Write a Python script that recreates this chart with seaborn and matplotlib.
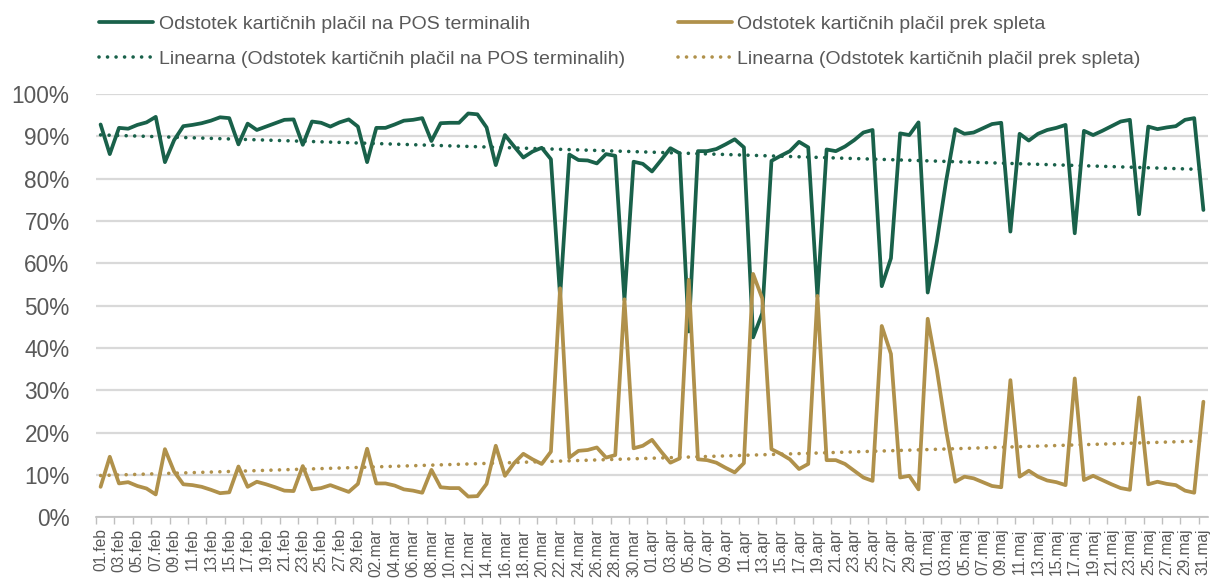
import numpy as np
import pandas as pd
import matplotlib
matplotlib.use("Agg")
import matplotlib.pyplot as plt
import seaborn as sns

# ---- data (percent of card payments), daily 01.feb - 31.maj 2020 ----
pos_pct = [
    92.8, 85.8, 92.0, 91.8, 92.7, 93.3, 94.6, 83.9, 89.1, 92.4,
    92.7, 93.1, 93.7, 94.5, 94.3, 88.1, 93.0, 91.5, 92.3, 93.1,
    93.9, 94.0, 88.0, 93.5, 93.2, 92.3, 93.3, 94.0, 92.3, 83.9,
    92.0, 92.0, 92.8, 93.7, 93.9, 94.3, 88.9, 93.1, 93.2, 93.2,
    95.4, 95.2, 92.1, 83.2, 90.3, 87.6, 85.0, 86.4, 87.3, 84.6,
    52.1, 85.7, 84.4, 84.3, 83.6, 85.8, 85.4, 51.3, 84.0, 83.5,
    81.7, 84.4, 87.2, 86.0, 43.9, 86.5, 86.5, 87.0, 88.1, 89.3,
    87.4, 42.5, 48.2, 84.2, 85.4, 86.5, 88.7, 87.4, 52.1, 86.9,
    86.5, 87.6, 89.1, 90.9, 91.5, 54.6, 61.2, 90.7, 90.3, 93.3,
    53.1, 65.2, 79.4, 91.7, 90.6, 90.9, 91.9, 92.9, 93.2, 67.5,
    90.6, 89.0, 90.6, 91.5, 92.0, 92.7, 67.1, 91.3, 90.3, 91.3,
    92.4, 93.5, 93.9, 71.6, 92.3, 91.7, 92.1, 92.4, 93.9, 94.3,
    72.6,
]
web_pct = [
    7.2, 14.3, 8.0, 8.3, 7.4, 6.8, 5.4, 16.1, 10.8, 7.8,
    7.6, 7.2, 6.5, 5.7, 5.9, 12.0, 7.2, 8.4, 7.8, 7.1,
    6.3, 6.2, 12.1, 6.6, 6.9, 7.6, 6.8, 6.0, 7.9, 16.2,
    8.0, 8.0, 7.5, 6.6, 6.3, 5.8, 11.2, 7.1, 6.9, 6.9,
    4.9, 5.0, 7.9, 16.9, 9.8, 12.8, 15.0, 13.7, 12.6, 15.5,
    54.1, 14.1, 15.7, 15.9, 16.5, 14.1, 14.7, 51.5, 16.3, 16.9,
    18.3, 15.5, 12.9, 13.9, 56.1, 13.7, 13.5, 12.9, 11.7, 10.6,
    12.8, 57.5, 51.7, 16.1, 15.0, 13.7, 11.4, 12.6, 52.3, 13.5,
    13.5, 12.6, 11.0, 9.4, 8.6, 45.2, 38.6, 9.4, 9.8, 6.6,
    46.9, 34.8, 20.6, 8.4, 9.6, 9.2, 8.3, 7.4, 7.1, 32.4,
    9.6, 11.0, 9.6, 8.7, 8.3, 7.6, 32.8, 8.8, 9.8, 8.8,
    7.8, 6.9, 6.5, 28.3, 7.8, 8.4, 7.9, 7.6, 6.3, 5.8,
    27.3,
]
month_abbr = {2: "feb", 3: "mar", 4: "apr", 5: "maj"}
dates = pd.date_range("2020-02-01", "2020-05-31", freq="D")
day_labels = [f"{d.day:02d}.{month_abbr[d.month]}" for d in dates]
y_ticks = [0, 10, 20, 30, 40, 50, 60, 70, 80, 90, 100]
y_tick_labels = [f"{v}%" for v in y_ticks]
series_names = [
    "Odstotek kartičnih plačil na POS terminalih",
    "Odstotek kartičnih plačil prek spleta",
]
trend_names = [f"Linearna ({n})" for n in series_names]

# ---- style ----
sns.set_theme(style="white")
plt.rcParams["font.family"] = ["Liberation Sans", "DejaVu Sans"]
GREEN = "#19614a"
GOLD = "#b0914b"
TXT = "#595959"

fig = plt.figure(figsize=(12.15, 5.81), dpi=100)
W, H = 1215, 581
ax = fig.add_axes([96 / W, 1 - 517.3 / H, 1112 / W, (517.3 - 94) / H])

df = pd.DataFrame({"x": np.arange(len(day_labels)), "pos": pos_pct, "web": web_pct})

sns.lineplot(data=df, x="x", y="pos", color=GREEN, lw=2.7, ax=ax,
             label=series_names[0], solid_joinstyle="round", solid_capstyle="round")
sns.lineplot(data=df, x="x", y="web", color=GOLD, lw=2.7, ax=ax,
             label=series_names[1], solid_joinstyle="round", solid_capstyle="round")
dot = (0, (0.01, 2.35))
sns.regplot(data=df, x="x", y="pos", scatter=False, ci=None, ax=ax, color=GREEN,
            label=trend_names[0],
            line_kws=dict(lw=2.6, linestyle=dot, dash_capstyle="round"))
sns.regplot(data=df, x="x", y="web", scatter=False, ci=None, ax=ax, color=GOLD,
            label=trend_names[1],
            line_kws=dict(lw=2.6, linestyle=dot, dash_capstyle="round"))

ax.set_xlim(-0.5, len(day_labels) - 0.5)
ax.set_ylim(0, 100)
ax.set_xlabel("")
ax.set_ylabel("")

xs = np.arange(len(day_labels))
ax.set_xticks(xs[::2])
ax.set_xticklabels(day_labels[::2], rotation=90, fontsize=11.2, color=TXT)
ax.set_xticks(np.arange(-0.5, len(day_labels) - 1, 2), minor=True)
ax.tick_params(axis="x", which="major", length=0, pad=8, bottom=True)
ax.tick_params(axis="x", which="minor", length=5, width=1, color="#bfbfbf", bottom=True)

ax.set_yticks(y_ticks)
ax.set_yticklabels(y_tick_labels, fontsize=16.3, color=TXT)
ax.tick_params(axis="y", length=0, pad=19)

ax.yaxis.grid(True, color="#d9d9d9", lw=1.6)
ax.xaxis.grid(False)
ax.set_axisbelow(True)
for s in ["left", "top", "right"]:
    ax.spines[s].set_visible(False)
ax.spines["bottom"].set_color("#bfbfbf")
ax.spines["bottom"].set_linewidth(1.2)

handles, labels = ax.get_legend_handles_labels()
order = [series_names[0], trend_names[0], series_names[1], trend_names[1]]
hmap = dict(zip(labels, handles))
if ax.get_legend() is not None:
    ax.get_legend().remove()
fig.legend([hmap[l] for l in order], order, loc="upper left",
           bbox_to_anchor=(99 / W, 1 - 15 / H), ncol=2, frameon=False,
           fontsize=14, handlelength=2.8, handletextpad=0.28,
           columnspacing=2.7, labelspacing=0.9, borderaxespad=0,
           borderpad=0, labelcolor=TXT)

fig.savefig("out.png", dpi=100)
